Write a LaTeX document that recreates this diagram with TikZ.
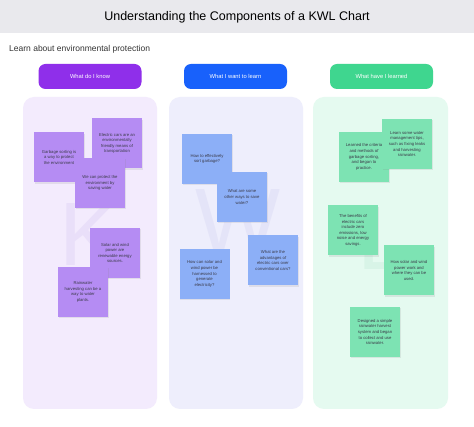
\documentclass[tikz,border=0pt]{standalone}
\usepackage{fontspec}
\setmainfont{Liberation Sans}
\usetikzlibrary{shadows}
\definecolor{titlebg}{HTML}{E9E9ED}
\definecolor{kpanel}{HTML}{F3EBFD}
\definecolor{wpanel}{HTML}{EEEEFC}
\definecolor{lpanel}{HTML}{E5FAF0}
\definecolor{kpill}{HTML}{8F2FEA}
\definecolor{wpill}{HTML}{1861FB}
\definecolor{lpill}{HTML}{3FD68F}
\definecolor{knote}{HTML}{B58CF3}
\definecolor{wnote}{HTML}{8CAFF7}
\definecolor{lnote}{HTML}{7DE3B3}
\definecolor{kletter}{HTML}{E9DFF9}
\definecolor{wletter}{HTML}{E4E4F8}
\definecolor{lletter}{HTML}{D8F4E7}
\definecolor{notetext}{HTML}{3A3A48}
\tikzset{
	note/.style={minimum width=50pt,minimum height=50pt,inner sep=1pt,align=center,
		font=\fontsize{4.2}{5.6}\selectfont,text=notetext,
		drop shadow={opacity=0.15,shadow xshift=0.5pt,shadow yshift=-1.2pt}},
	knote/.style={note,fill=knote},
	wnote/.style={note,fill=wnote},
	lnote/.style={note,fill=lnote},
	pill/.style={rounded corners=7pt,minimum width=103pt,minimum height=25pt,inner sep=0pt,
		text=white,font=\fontsize{5.8}{7}\selectfont},
	panel/.style={rounded corners=11pt},
	bigletter/.style={font=\fontsize{90}{90}\selectfont,inner sep=0pt}
}
\begin{document}
\begin{tikzpicture}[x=1pt,y=-1pt]
	\useasboundingbox[fill=white] (0,0) rectangle (474,427);
	\fill[titlebg] (0,0) rectangle (474,33);
	\node (title) at (237,17) {\fontsize{12.5}{14}\selectfont Understanding the Components of a KWL Chart};
	\node[anchor=west,inner sep=0pt,text=black!80] (topic) at (9,49) {\fontsize{8.5}{10}\selectfont Learn about environmental protection};
		\fill[panel,kpanel] (23,97) rectangle (157,409);
		\fill[panel,wpanel] (169,97) rectangle (303,409);
		\fill[panel,lpanel] (313,97) rectangle (448,409);
	\node[pill,fill=kpill] (khead) at (90,76.5) {What do I know};
	\node[pill,fill=wpill] (whead) at (235.5,76.5) {What I want to learn};
	\node[pill,fill=lpill] (lhead) at (381.5,76.5) {What have I learned};
		\node[bigletter,text=kletter,anchor=base] (kbig) at (90,266) {K};
		\node[bigletter,text=wletter,anchor=base] (wbig) at (238,252) {W};
		\node[bigletter,text=lletter,anchor=base west] (lbig) at (357,270) {L};
	\node[knote] (gsort) at (59,157.5) {Garbage sorting is\\a way to protect\\the environment};
	\node[knote] (ecars) at (117,143.5) {Electric cars are an\\environmentally\\friendly means of\\transportation};
	\node[knote] (water) at (100,183) {We can protect the\\environment by\\saving water};
	\node[knote] (solar) at (115,253) {Solar and wind\\power are\\renewable energy\\sources.};
	\node[knote] (rain) at (83,292) {Rainwater\\harvesting can be a\\way to water\\plants.};
	\node[wnote] (howsort) at (207,159) {How to effectively\\sort garbage?};
	\node[wnote] (otherways) at (242,197) {What are some\\other ways to save\\water?};
	\node[wnote] (harness) at (204.5,274) {How can solar and\\wind power be\\harnessed to\\generate\\electricity?};
	\node[wnote] (advant) at (273,260.5) {What are the\\advantages of\\electric cars over\\conventional cars?};
	\node[lnote] (criteria) at (364,157) {Learned the criteria\\and methods of\\garbage sorting,\\and began to\\practice.};
	\node[lnote] (tips) at (407,144) {Learn some water\\management tips,\\such as fixing leaks\\and harvesting\\rainwater.};
	\node[lnote] (benefits) at (353,230.5) {The benefits of\\electric cars\\include zero\\emissions, low\\noise and energy\\savings.};
	\node[lnote] (howwork) at (409,270.5) {How solar and wind\\power work and\\where they can be\\used.};
	\node[lnote] (harvest) at (375,332) {Designed a simple\\rainwater harvest\\system and began\\to collect and use\\rainwater.};
\end{tikzpicture}
\end{document}
